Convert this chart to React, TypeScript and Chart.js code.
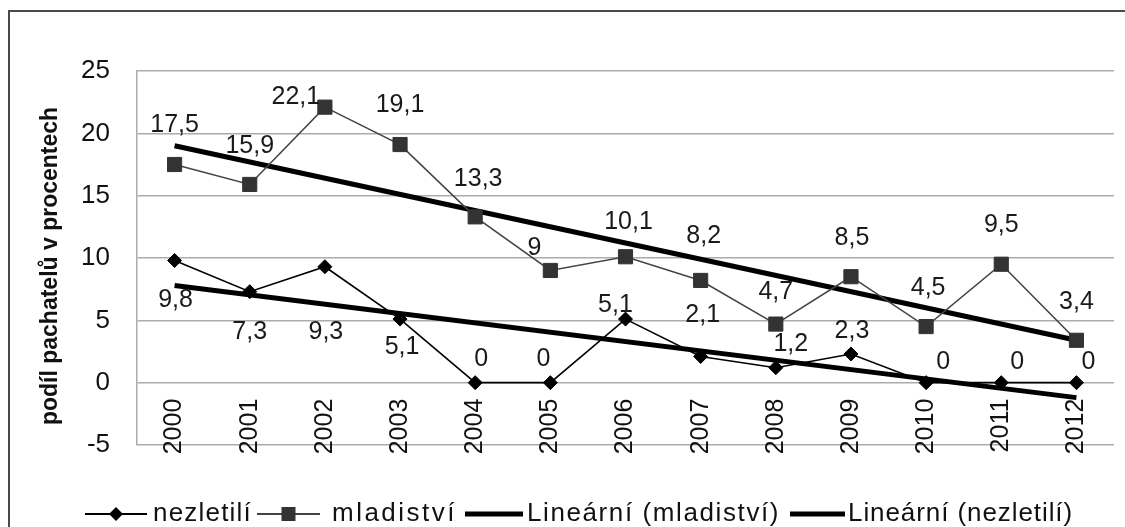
import React, { useEffect, useRef } from 'react';
import { Chart, registerables } from 'chart.js';

Chart.register(...registerables);

// ---- data ----
const years = ['2000', '2001', '2002', '2003', '2004', '2005', '2006', '2007', '2008', '2009', '2010', '2011', '2012'];
const nezletili = [9.8, 7.3, 9.3, 5.1, 0, 0, 5.1, 2.1, 1.2, 2.3, 0, 0, 0];
const mladistvi = [17.5, 15.9, 22.1, 19.1, 13.3, 9, 10.1, 8.2, 4.7, 8.5, 4.5, 9.5, 3.4];
// linear trendline end values
const trendMladistvi = [19.0, null, null, null, null, null, null, null, null, null, null, null, 3.4];
const trendNezletili = [7.8, null, null, null, null, null, null, null, null, null, null, null, -1.2];
const yMin = -5;
const yMax = 25;
const yStep = 5;
const seriesNames = ['nezletilí', 'mladiství', 'Lineární (mladiství)', 'Lineární (nezletilí)'];
const yTitle = 'podíl pachatelů v procentech';

// ---- label placement (pixel offsets from the point) ----
const mlLabelOffsets = [[0, -39], [0, -38], [-29, -10], [0, -39], [3, -38], [-16, -22], [3, -35], [3, -44], [0, -32], [1, -39], [2, -38], [0, -39], [0, -38]];
const nzLabelOffsets = [[1, 40], [0, 40], [1, 65], [2, 28], [6, -24], [-7, -24], [-10, -14], [2, -41], [15, -24], [1, -23], [17, -21], [16, -21], [12, -21]];

const FONT = '"Liberation Sans", Arial, sans-serif';
const fmt = (v: number) => String(v).replace('.', ',');

const decorPlugin = {
  id: 'decor',
  afterDatasetsDraw(chart: any) {
    const ctx = chart.ctx;
    ctx.save();
    ctx.font = `25px ${FONT}`;
    ctx.fillStyle = '#1a1a1a';
    ctx.textAlign = 'center';
    ctx.textBaseline = 'middle';
    const drawLabels = (dsIndex: number, values: number[], offsets: number[][]) => {
      const meta = chart.getDatasetMeta(dsIndex);
      meta.data.forEach((pt: any, i: number) => {
        const [dx, dy] = offsets[i];
        ctx.fillText(fmt(values[i]), pt.x + dx, pt.y + dy);
      });
    };
    drawLabels(0, nezletili, nzLabelOffsets);
    drawLabels(1, mladistvi, mlLabelOffsets);
    ctx.restore();
  },
  afterDraw(chart: any) {
    const ctx = chart.ctx;
    ctx.save();
    // frame
    ctx.strokeStyle = '#4a4a4a';
    ctx.lineWidth = 2;
    ctx.beginPath();
    ctx.moveTo(9, 530);
    ctx.lineTo(9, 11);
    ctx.lineTo(1130, 11);
    ctx.stroke();

    // y title
    ctx.save();
    ctx.translate(51, 266);
    ctx.rotate(-Math.PI / 2);
    ctx.font = `bold 23px ${FONT}`;
    ctx.fillStyle = '#111';
    ctx.textAlign = 'center';
    ctx.textBaseline = 'middle';
    ctx.fillText(yTitle, 0, 0);
    ctx.restore();

    // legend
    const ly = 514;
    const items = [
      { x0: 85, x1: 147, tx: 153, tw: 99, kind: 'diamond', color: '#000', lw: 2 },
      { x0: 257, x1: 320, tx: 332, tw: 125, kind: 'square', color: '#444', lw: 2 },
      { x0: 465, x1: 523, tx: 527, tw: 253, kind: 'line', color: '#000', lw: 5 },
      { x0: 790, x1: 845, tx: 848, tw: 225, kind: 'line', color: '#000', lw: 5 },
    ];
    items.forEach((it, i) => {
      ctx.strokeStyle = it.color;
      ctx.lineWidth = it.lw;
      ctx.beginPath();
      ctx.moveTo(it.x0, ly);
      ctx.lineTo(it.x1, ly);
      ctx.stroke();
      const cx = (it.x0 + it.x1) / 2;
      if (it.kind === 'diamond') {
        ctx.fillStyle = '#000';
        ctx.beginPath();
        ctx.moveTo(cx - 7, ly);
        ctx.lineTo(cx, ly - 7);
        ctx.lineTo(cx + 7, ly);
        ctx.lineTo(cx, ly + 7);
        ctx.closePath();
        ctx.fill();
      } else if (it.kind === 'square') {
        ctx.fillStyle = '#333';
        ctx.fillRect(cx - 7, ly - 7, 14, 14);
      }
      ctx.font = `26px ${FONT}`;
      ctx.fillStyle = '#111';
      ctx.textAlign = 'left';
      ctx.textBaseline = 'middle';
      const text = seriesNames[i];
      (ctx as any).letterSpacing = '0px';
      const w = ctx.measureText(text).width;
      const extra = Math.max(0, (it.tw - w) / text.length);
      (ctx as any).letterSpacing = `${extra.toFixed(2)}px`;
      ctx.fillText(text, it.tx, ly);
      (ctx as any).letterSpacing = '0px';
    });
    ctx.restore();
  },
};

export default function App() {
  const canvasRef = useRef<HTMLCanvasElement | null>(null);

  useEffect(() => {
    const canvas = canvasRef.current;
    if (!canvas) return;
    const chart = new Chart(canvas, {
      type: 'line',
      data: {
        labels: years,
        datasets: [
          {
            label: seriesNames[0],
            data: nezletili,
            borderColor: '#000',
            backgroundColor: '#000',
            borderWidth: 1.6,
            pointStyle: 'rectRot',
            pointRadius: 7,
            pointBorderWidth: 1,
            pointBackgroundColor: '#000',
            pointBorderColor: '#000',
            tension: 0,
          },
          {
            label: seriesNames[1],
            data: mladistvi,
            borderColor: '#444',
            backgroundColor: '#333',
            borderWidth: 1.6,
            pointStyle: 'rect',
            pointRadius: 10,
            pointBorderWidth: 1,
            pointBackgroundColor: '#333',
            pointBorderColor: '#333',
            tension: 0,
          },
          {
            label: seriesNames[2],
            data: trendMladistvi,
            borderColor: '#000',
            borderWidth: 5,
            pointRadius: 0,
            spanGaps: true,
            tension: 0,
          },
          {
            label: seriesNames[3],
            data: trendNezletili,
            borderColor: '#000',
            borderWidth: 5,
            pointRadius: 0,
            spanGaps: true,
            tension: 0,
          },
        ],
      },
      options: {
        responsive: false,
        animation: false,
        events: [],
        layout: { padding: { left: 0, top: 71, right: 4, bottom: 82 } },
        plugins: {
          legend: { display: false },
          tooltip: { enabled: false },
          title: { display: false },
        },
        scales: {
          x: {
            type: 'category',
            position: { y: 0 } as any,
            offset: true,
            grid: { display: false, drawTicks: false },
            border: { display: false },
            ticks: {
              minRotation: 90,
              maxRotation: 90,
              padding: 16,
              color: '#111',
              font: { family: FONT, size: 25 },
            },
          },
          y: {
            min: yMin,
            max: yMax,
            afterFit: (s: any) => {
              s.width = 137;
            },
            ticks: {
              stepSize: yStep,
              padding: 27,
              color: '#111',
              font: { family: FONT, size: 26 },
            },
            grid: { color: '#ababab', lineWidth: 1.5, drawTicks: false },
            border: { display: true, color: '#ababab', width: 1.5 },
          },
        },
      },
      plugins: [decorPlugin],
    });
    return () => chart.destroy();
  }, []);

  return (
    <canvas
      ref={canvasRef}
      width={1125}
      height={527}
      style={{ position: 'absolute', left: 0, top: 0, width: 1125, height: 527 }}
    />
  );
}
